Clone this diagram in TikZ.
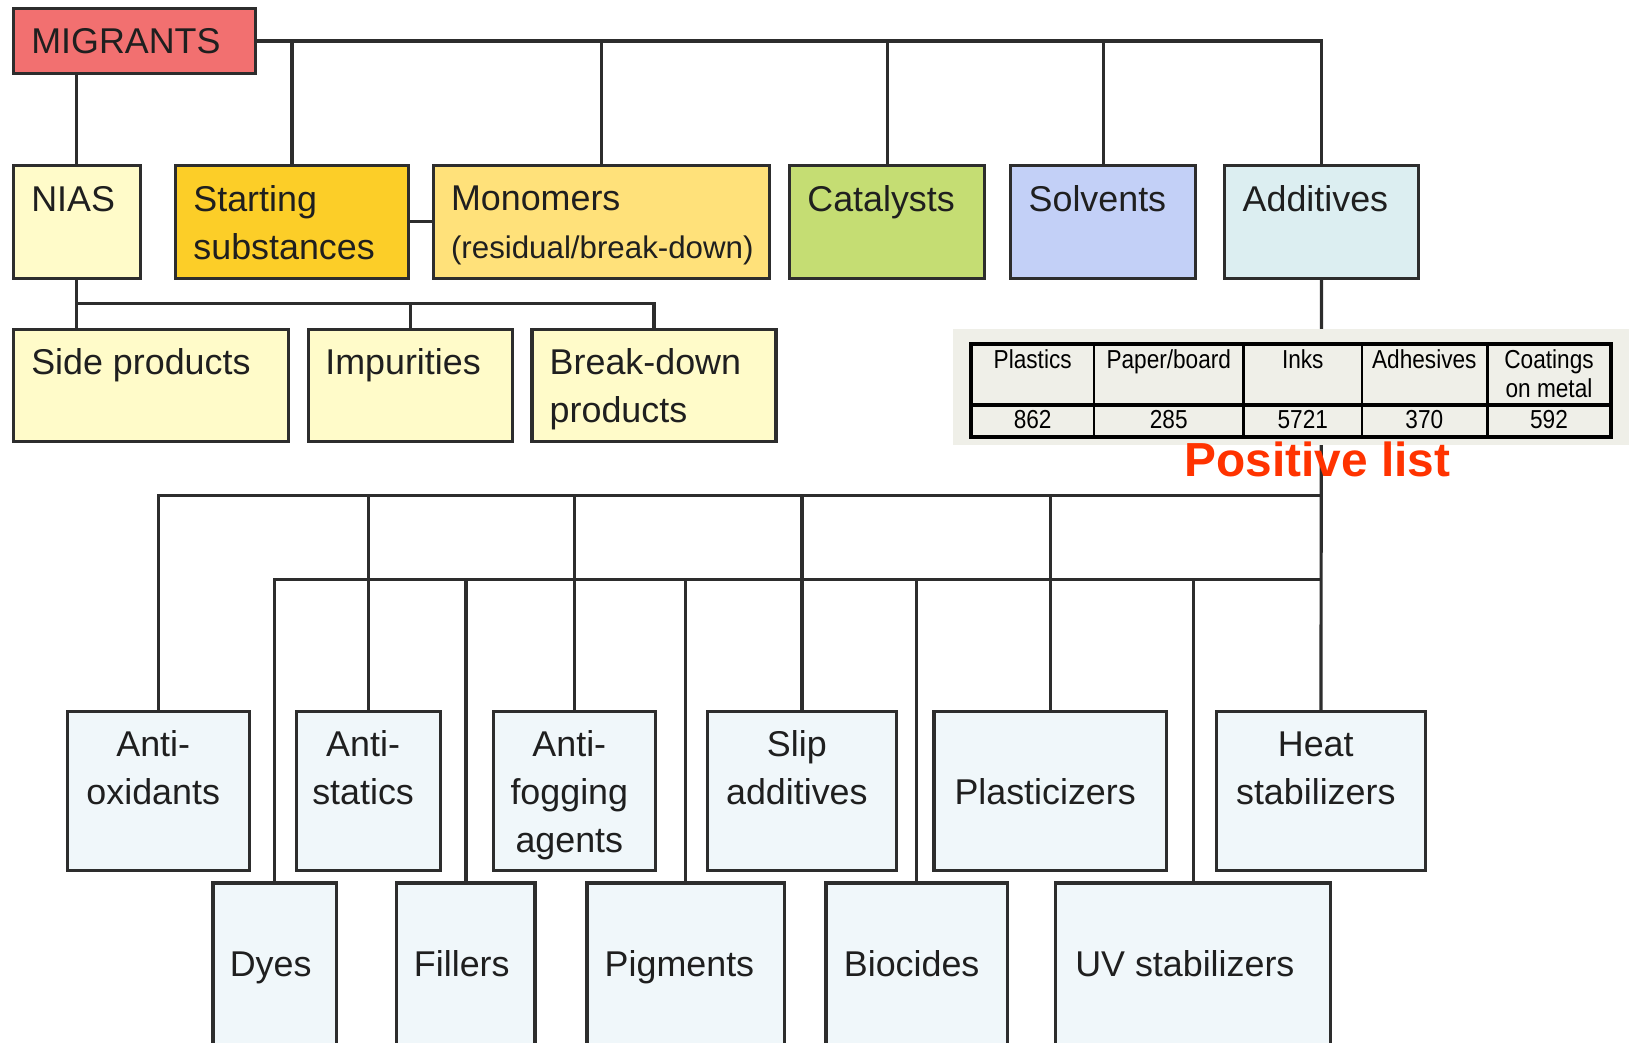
\documentclass[tikz,border=0pt]{standalone}
\usepackage{fontspec}
\setmainfont{Liberation Sans}
\newfontfamily\tablefont{Liberation Sans}[FakeStretch=0.87]
\usetikzlibrary{fit}
\usetikzlibrary{calc}

\definecolor{migred}{RGB}{242,112,112}
\definecolor{niasyellow}{RGB}{255,251,201}
\definecolor{startgold}{RGB}{252,206,40}
\definecolor{monoyellow}{RGB}{255,225,122}
\definecolor{catgreen}{RGB}{197,221,115}
\definecolor{solvblue}{RGB}{195,208,247}
\definecolor{addcyan}{RGB}{220,238,241}
\definecolor{addpale}{RGB}{240,247,250}
\definecolor{tablegray}{RGB}{239,239,232}
\definecolor{listred}{RGB}{255,51,0}
\definecolor{linegray}{RGB}{45,45,45}

\tikzstyle{mybox} = [draw=linegray, line width=0.9pt, rectangle, inner sep=0pt]
\tikzstyle{boxtext} = [inner sep=0pt, text=black!88, align=left,
    font=\fontsize{10.2}{13.6}\selectfont]
\tikzstyle{centertext} = [boxtext, align=center]
\tikzstyle{tabtext} = [inner sep=0pt, align=center,
    font=\tablefont\fontsize{7.4}{8.3}\selectfont]
\tikzstyle{wire} = [draw=linegray, line width=0.9pt]

\begin{document}
\begin{tikzpicture}[x=0.2956pt, y=-0.2956pt]
\useasboundingbox (0,0) rectangle (1568,1003);
\clip (0,0) rectangle (1568,1003);

% top rows
\node[mybox, fill=migred, fit={(13,8) (246,71)}] (mig) {};
\node[mybox, fill=niasyellow, fit={(13,159) (135,268)}] (nias) {};
\node[mybox, fill=startgold, fit={(169,159) (393,268)}] (start) {};
\node[mybox, fill=monoyellow, fit={(417,159) (741,268)}] (mono) {};
\node[mybox, fill=catgreen, fit={(760,159) (948,268)}] (cat) {};
\node[mybox, fill=solvblue, fit={(973,159) (1151,268)}] (solv) {};
\node[mybox, fill=addcyan, fit={(1179,159) (1365,268)}] (add) {};

\node[mybox, fill=niasyellow, fit={(13,317) (278,425)}] (side) {};
\node[mybox, fill=niasyellow, fit={(297,317) (493,425)}] (imp) {};
\node[mybox, fill=niasyellow, fit={(512,317) (747,425)}] (brk) {};

% additives
\node[mybox, fill=addpale, fit={(65,685) (240,838)}] (anox) {};
\node[mybox, fill=addpale, fit={(285,685) (424,838)}] (antist) {};
\node[mybox, fill=addpale, fit={(475,685) (631,838)}] (antifog) {};
\node[mybox, fill=addpale, fit={(681,685) (863,838)}] (slip) {};
\node[mybox, fill=addpale, fit={(899,685) (1123,838)}] (plast) {};
\node[mybox, fill=addpale, fit={(1171,685) (1372,838)}] (heat) {};

\node[mybox, fill=addpale, fit={(205,850) (324,1012)}] (dyes) {};
\node[mybox, fill=addpale, fit={(382,850) (515,1012)}] (fillers) {};
\node[mybox, fill=addpale, fit={(565,850) (755,1012)}] (pigm) {};
\node[mybox, fill=addpale, fit={(795,850) (970,1012)}] (bioc) {};
\node[mybox, fill=addpale, fit={(1016,850) (1281,1012)}] (uvst) {};

% base anchor sits on the last line
\node[boxtext, anchor=base west] (mig-t) at ([shift={(18,45)}]mig.north west) {MIGRANTS};
\node[boxtext, anchor=base west] (nias-t) at ([shift={(18,46)}]nias.north west) {NIAS};
\node[boxtext, anchor=base west] (start-t) at ([shift={(18,92)}]start.north west) {Starting\\substances};
\node[boxtext, anchor=base west] (mono-t) at ([shift={(18,91)}]mono.north west) {Monomers\\{\fontsize{8.9}{13.6}\selectfont(residual/break-down)}};
\node[boxtext, anchor=base west] (cat-t) at ([shift={(18,46)}]cat.north west) {Catalysts};
\node[boxtext, anchor=base west] (solv-t) at ([shift={(18,46)}]solv.north west) {Solvents};
\node[boxtext, anchor=base west] (add-t) at ([shift={(18,46)}]add.north west) {Additives};

\node[boxtext, anchor=base west] (side-t) at ([shift={(18,45)}]side.north west) {Side products};
\node[boxtext, anchor=base west] (imp-t) at ([shift={(17,45)}]imp.north west) {Impurities};
\node[boxtext, anchor=base west] (brk-t) at ([shift={(18,91)}]brk.north west) {Break-down\\products};

\node[centertext, anchor=base] (anox-t) at ([shift={(-5,91)}]anox.north) {Anti-\\oxidants};
\node[centertext, anchor=base] (antist-t) at ([shift={(-5,91)}]antist.north) {Anti-\\statics};
\node[centertext, anchor=base] (antifog-t) at ([shift={(-5,137)}]antifog.north) {Anti-\\fogging\\agents};
\node[centertext, anchor=base] (slip-t) at ([shift={(-5,91)}]slip.north) {Slip\\additives};
\node[centertext, anchor=base] (plast-t) at ([shift={(-5,91)}]plast.north) {Plasticizers};
\node[centertext, anchor=base] (heat-t) at ([shift={(-5,91)}]heat.north) {Heat\\stabilizers};

\node[centertext, anchor=base] (dyes-t) at ([shift={(-4,91)}]dyes.north) {Dyes};
\node[centertext, anchor=base] (fillers-t) at ([shift={(-4,91)}]fillers.north) {Fillers};
\node[centertext, anchor=base] (pigm-t) at ([shift={(-6,91)}]pigm.north) {Pigments};
\node[centertext, anchor=base] (bioc-t) at ([shift={(-5,91)}]bioc.north) {Biocides};
\node[centertext, anchor=base] (uvst-t) at ([shift={(-8,91)}]uvst.north) {UV stabilizers};

% connectors
\draw[wire] (mig.east) -| (add.north);
\draw[wire] (mig.east -| start.north) -- (start.north);
\draw[wire] (mig.east -| mono.north) -- (mono.north);
\draw[wire] (mig.east -| cat.north) -- (cat.north);
\draw[wire] (mig.east -| solv.north) -- (solv.north);
\draw[wire] (mig.south -| nias.north) -- (nias.north);
\draw[wire] (start.east) -- (mono.west);

\coordinate (niasbus) at ($(nias.south)!0.5!(nias.south |- side.north)$);
\draw[wire] (nias.south) -- (nias.south |- side.north);
\draw[wire] (niasbus) -| (brk.north);
\draw[wire] (niasbus -| imp.north) -- (imp.north);

\coordinate (busa) at (1272,477);
\coordinate (busb) at (1272,558);
\draw[wire] (add.south) -- (heat.north);
\draw[wire] (busa) -| (anox.north);
\draw[wire] (busa -| antist.north) -- (antist.north);
\draw[wire] (busa -| antifog.north) -- (antifog.north);
\draw[wire] (busa -| slip.north) -- (slip.north);
\draw[wire] (busa -| plast.north) -- (plast.north);
\draw[wire] (busb) -| (dyes.north);
\draw[wire] (busb -| fillers.north) -- (fillers.north);
\draw[wire] (busb -| pigm.north) -- (pigm.north);
\draw[wire] (busb -| bioc.north) -- (bioc.north);
\draw[wire] (busb -| uvst.north) -- (uvst.north);

% positive list table
\fill[tablegray] (917,317) rectangle (1568,428);
\draw[line width=1.1pt] (935,331) rectangle (1551,421);
\draw[line width=1.1pt] (935,390) -- (1551,390);
\draw[line width=0.7pt] (1053,331) -- (1053,421) (1197,331) -- (1197,421)
    (1311,331) -- (1311,421) (1432,331) -- (1432,421);

\node[tabtext, anchor=base] (plastics) at (994,355) {Plastics};
\node[tabtext, anchor=base] (paper) at (1125,355) {Paper/board};
\node[tabtext, anchor=base] (inks) at (1254,355) {Inks};
\node[tabtext, anchor=base] (adhes) at (1371,355) {Adhesives};
\node[tabtext, anchor=base] (coat) at (1491,383) {Coatings\\on metal};
\node[tabtext, anchor=base] (n-plastics) at (994,412) {862};
\node[tabtext, anchor=base] (n-paper) at (1125,412) {285};
\node[tabtext, anchor=base] (n-inks) at (1254,412) {5721};
\node[tabtext, anchor=base] (n-adhes) at (1371,412) {370};
\node[tabtext, anchor=base] (n-coat) at (1491,412) {592};

\node[inner sep=0pt, anchor=base, text=listred, font=\bfseries\fontsize{13.6}{16}\selectfont] (poslist) at (1268,459) {Positive list};

\end{tikzpicture}
\end{document}
